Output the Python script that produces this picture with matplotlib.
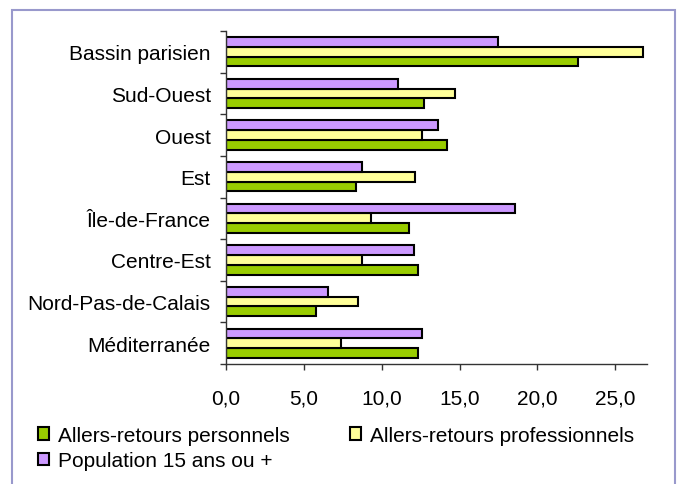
import matplotlib
matplotlib.use('Agg')
import matplotlib.pyplot as plt
from matplotlib.patches import Rectangle
from matplotlib.ticker import FuncFormatter, FixedLocator
import numpy as np

plt.rcParams['font.family'] = ['Liberation Sans', 'DejaVu Sans']

regions = ['Bassin parisien', 'Sud-Ouest', 'Ouest', 'Est', 'Île-de-France',
           'Centre-Est', 'Nord-Pas-de-Calais', 'Méditerranée']
perso = [22.6, 12.7, 14.2, 8.35, 11.75, 12.35, 5.8, 12.35]
pro = [26.8, 14.7, 12.6, 12.15, 9.3, 8.75, 8.5, 7.4]
population = [17.45, 11.05, 13.6, 8.75, 18.55, 12.05, 6.55, 12.6]

fig = plt.figure(figsize=(6.77, 4.85), dpi=100)
ax = fig.add_axes([226 / 677, 1 - 365 / 485, (647.3 - 226) / 677, (365 - 32) / 485])

y = np.arange(len(regions))
h = 0.235
kw = dict(height=h, edgecolor='black', linewidth=1.5)
b_perso = ax.barh(y + h, perso, color='#99CC00', label='Allers-retours personnels', **kw)
b_pro = ax.barh(y, pro, color='#FFFF99', label='Allers-retours professionnels', **kw)
b_pop = ax.barh(y - h, population, color='#CC99FF', label='Population 15 ans ou +', **kw)

ax.set_xlim(0, 27.06)
ax.set_ylim(len(regions) - 0.5, -0.5)
ax.set_xticks([0, 5, 10, 15, 20, 25])
ax.xaxis.set_major_formatter(FuncFormatter(lambda v, p: f'{v:.1f}'.replace('.', ',')))
ax.set_yticks(y)
ax.set_yticklabels(regions)
ax.yaxis.set_minor_locator(FixedLocator(np.arange(len(regions) + 1) - 0.5))

for s in ['top', 'right']:
    ax.spines[s].set_visible(False)
for s in ['left', 'bottom']:
    ax.spines[s].set_color('#333333')
    ax.spines[s].set_linewidth(1.0)

ax.tick_params(axis='y', which='major', length=0, pad=11, labelsize=15)
ax.tick_params(axis='y', which='minor', length=4, width=1, color='#333333', direction='out')
ax.tick_params(axis='x', which='major', length=4, width=1, color='#333333', direction='out',
               pad=14, labelsize=15)

fig.legend(handles=[b_perso, b_pop, b_pro], ncol=2, loc='upper left',
           bbox_to_anchor=(38 / 677, 1 - 427 / 485), frameon=False,
           fontsize=15, handlelength=0.55, handleheight=0.55, handletextpad=0.4,
           columnspacing=2.9, labelspacing=0.3, borderpad=0, borderaxespad=0)

fig.patches.append(Rectangle((11.5 / 677, -0.05), (675 - 11.5) / 677, 1.05 - 10.5 / 485,
                             transform=fig.transFigure, fill=False,
                             edgecolor='#9999CC', linewidth=1.5))

fig.savefig('out.png', dpi=100)
